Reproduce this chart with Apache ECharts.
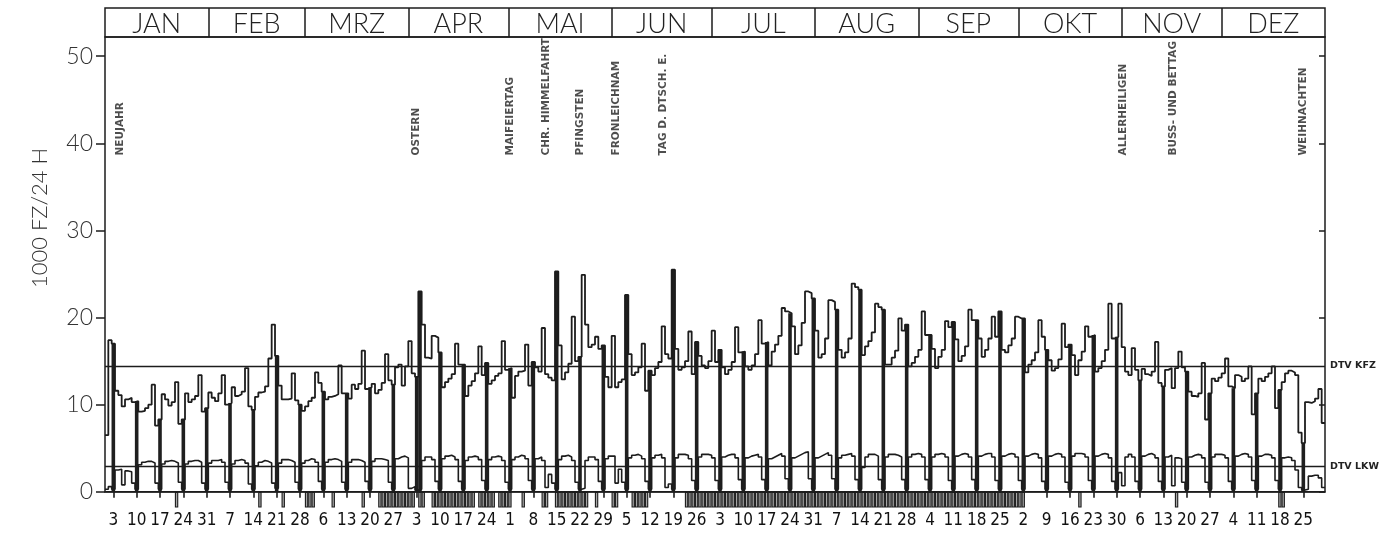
<!DOCTYPE html>
<html><head><meta charset="utf-8">
<script src="https://cdn.jsdelivr.net/npm/echarts@6/dist/echarts.min.js"></script>
<style>html,body{margin:0;padding:0;background:#fff}#c{width:1394px;height:538px}</style>
</head><body><div id="c"></div>
<script>
// ---- data (year 1988, day index 0 = Fri 1 Jan) ----
const monthNames = ['JAN','FEB','MRZ','APR','MAI','JUN','JUL','AUG','SEP','OKT','NOV','DEZ'];
const monthLengths = [31,29,31,30,31,30,31,31,30,31,30,31];
const sundayLabels = ['3','10','17','24','31','7','14','21','28','6','13','20','27','3','10','17','24','1','8','15','22','29','5','12','19','26','3','10','17','24','31','7','14','21','28','4','11','18','25','2','9','16','23','30','6','13','20','27','4','11','18','25'];
const firstSunday = 2;
const yTickValues = [0,10,20,30,40,50];

// KFZ daily totals (1000 vehicles / 24 h)
const kfz = [
 6.5,17.4,17.0,
 11.6,11.1,9.8,10.6,10.8,10.3,10.4,
 9.2,9.3,9.6,10.0,12.3,7.6,8.3,
 11.2,10.6,9.9,10.3,12.6,7.8,8.3,
 11.3,10.3,10.6,11.0,13.4,9.2,9.6,
 11.4,10.8,10.4,11.3,13.4,10.0,10.2,
 12.0,11.0,11.2,11.5,14.2,9.8,9.4,
 10.9,11.4,11.5,12.1,15.3,19.2,15.6,
 12.2,10.6,10.6,10.7,13.6,10.5,10.0,
 9.3,9.8,10.4,10.8,13.7,12.5,11.5,
 10.6,10.9,11.0,11.2,14.5,11.3,11.3,
 10.7,12.3,11.8,12.4,16.2,11.8,12.0,
 12.4,11.3,11.7,12.5,15.8,12.8,12.3,
 14.3,14.6,12.2,14.4,17.3,13.6,13.2,
 23.0,19.2,15.4,15.3,17.9,17.7,16.0,
 12.0,12.6,13.0,13.5,17.0,14.6,14.6,
 11.0,12.2,12.7,13.6,16.7,13.4,14.8,
 12.4,12.8,13.3,13.6,17.3,14.0,14.2,
 10.8,13.3,13.8,13.9,16.9,12.2,14.9,
 14.3,13.8,18.8,13.5,13.1,12.8,25.3,
 16.8,12.9,13.7,14.7,20.1,15.0,15.5,
 24.9,19.2,16.6,16.9,17.8,16.4,16.8,
 13.2,12.0,17.9,12.0,12.6,12.9,22.6,
 15.8,13.4,13.7,14.3,17.0,11.6,13.9,
 13.4,14.2,14.9,19.0,15.8,15.3,25.5,
 16.4,14.0,14.3,15.0,18.4,13.5,17.2,
 15.6,14.5,14.2,15.0,18.5,14.9,16.3,
 14.3,13.5,14.0,14.9,18.9,16.0,16.1,
 14.4,14.0,14.5,15.8,19.7,17.0,17.2,
 14.5,16.1,16.9,17.9,21.1,20.7,20.5,
 19.0,15.8,16.8,19.4,23.0,22.8,22.2,
 18.5,15.4,15.8,17.6,22.0,21.8,20.9,
 16.3,15.4,16.0,17.6,23.9,23.5,23.2,
 15.7,16.7,17.3,18.3,21.6,21.2,20.9,
 14.6,14.6,15.4,16.2,19.9,18.5,19.2,
 14.4,14.8,15.5,16.3,20.7,18.0,18.0,
 16.4,14.2,15.5,16.3,19.6,18.9,19.5,
 17.5,15.0,15.6,16.7,20.9,19.7,19.7,
 17.6,15.5,16.3,17.6,20.1,17.8,20.7,
 16.3,16.0,16.8,17.6,20.1,19.9,19.9,
 13.7,14.6,15.1,16.0,19.7,17.8,16.3,
 15.1,13.9,14.2,15.2,19.3,16.6,16.9,
 15.7,13.4,15.1,16.1,19.0,17.8,18.0,
 13.8,14.2,15.0,16.3,21.6,17.6,17.8,
 21.6,16.6,13.8,13.4,16.5,14.0,12.8,
 14.1,13.5,13.3,13.8,17.2,12.5,12.1,
 14.0,14.2,11.9,14.2,16.1,14.3,13.8,
 11.5,11.0,10.9,11.3,14.8,8.3,11.3,
 13.0,12.7,13.1,13.6,15.3,12.1,11.9,
 13.4,13.2,12.7,13.0,14.4,8.9,11.3,
 13.0,12.7,13.2,13.6,14.4,9.6,11.7,
 12.6,13.6,13.9,13.7,13.4,6.8,5.6,
 10.3,10.2,10.4,10.7,11.8,7.9
];

// LKW daily totals (1000 trucks / 24 h)
const lkw = [
 0.3,0.6,0.3,
 2.5,2.6,0.8,2.4,2.3,1.0,0.3,
 3.1,3.4,3.5,3.5,3.3,1.0,0.3,
 3.2,3.5,3.6,3.5,3.3,1.1,0.3,
 3.2,3.5,3.6,3.6,3.4,1.0,0.3,
 3.3,3.6,3.6,3.7,3.4,1.1,0.3,
 3.2,3.6,3.7,3.6,3.3,0.9,0.3,
 3.0,3.4,3.6,3.5,3.3,1.0,0.4,
 3.3,3.7,3.7,3.6,3.4,1.1,0.3,
 3.3,3.6,3.8,3.7,3.4,1.2,0.3,
 3.4,3.7,3.8,3.7,3.5,1.1,0.3,
 3.4,3.7,3.7,3.6,3.4,1.2,0.3,
 3.5,3.8,3.8,3.7,3.6,1.1,0.3,
 3.8,4.0,4.1,3.9,0.4,0.6,0.2,
 0.3,3.6,4.0,4.0,3.7,1.2,0.3,
 3.8,4.1,4.2,4.0,3.7,1.2,0.3,
 3.6,4.0,4.1,4.0,3.7,1.3,0.3,
 3.7,4.0,4.1,4.0,3.6,1.1,0.3,
 3.7,4.0,4.2,4.1,3.8,1.3,0.3,
 3.8,4.0,3.6,0.5,2.0,1.0,0.3,
 3.7,4.1,4.2,4.0,3.6,1.1,0.3,
 0.4,3.6,4.0,4.0,3.7,1.2,0.3,
 3.8,4.1,4.1,1.0,2.6,1.1,0.3,
 3.9,4.2,4.3,4.1,3.8,1.2,0.3,
 3.9,4.2,4.3,3.9,0.5,0.9,0.3,
 3.9,4.3,4.3,4.2,3.8,1.3,0.3,
 4.0,4.3,4.3,4.2,3.9,1.3,0.3,
 4.0,4.2,4.3,4.3,3.9,1.4,0.3,
 3.9,4.1,4.2,4.3,4.0,1.4,0.3,
 3.8,4.0,4.2,4.4,4.1,1.5,0.3,
 3.9,4.1,4.3,4.5,4.6,1.5,0.3,
 3.9,4.1,4.3,4.5,4.2,1.5,0.3,
 3.9,4.2,4.3,4.4,4.1,1.4,0.3,
 2.8,4.0,4.3,4.3,4.1,1.4,0.3,
 4.0,4.3,4.3,4.2,4.0,1.4,0.3,
 4.0,4.3,4.4,4.3,4.0,1.4,0.3,
 4.0,4.3,4.4,4.3,4.0,1.3,0.3,
 4.1,4.3,4.4,4.3,4.0,1.4,0.3,
 4.1,4.3,4.4,4.4,4.0,1.3,0.3,
 4.1,4.3,4.4,4.3,4.0,1.3,0.3,
 4.1,4.3,4.4,4.3,3.9,1.2,0.3,
 4.1,4.3,4.4,4.3,4.0,1.1,0.3,
 4.1,4.4,4.4,4.3,4.0,1.3,0.3,
 4.1,4.3,4.4,4.3,3.9,1.2,0.3,
 2.2,0.7,4.0,4.3,4.0,1.2,0.3,
 4.1,4.3,4.4,4.2,3.9,1.2,0.3,
 4.0,4.2,0.7,3.9,3.8,1.1,0.3,
 4.0,4.2,4.3,4.2,3.9,1.1,0.3,
 4.0,4.3,4.3,4.2,3.9,1.2,0.3,
 4.1,4.3,4.4,4.3,4.0,1.3,0.3,
 4.1,4.3,4.3,4.2,3.9,1.3,0.3,
 3.9,4.0,3.9,3.6,2.5,0.5,0.2,
 0.3,1.8,1.9,1.9,1.6,0.5
];

const dtvKfz = 14.45;
const dtvLkw = 2.95;

// days marked below the axis (school holidays)
const ferienDays = [21,46,53,60,61,62,68,77,
 82,83,84,85,86,87,88,89,90,91,92,94,95,
 98,99,100,101,102,103,104,105,106,107,108,109,110,112,113,114,115,116,118,119,120,121,
 125,131,132,135,136,137,138,139,140,141,142,143,144,147,152,153,158,159,160,161,162,
 174,175,176,177,178,179,180,181,182,183,184,185,186,187,188,189,190,191,192,193,194,195,196,197,198,199,
 200,201,202,203,204,205,206,207,208,209,210,211,212,213,214,215,216,217,218,219,220,221,222,223,224,225,
 226,227,228,229,230,231,232,233,234,235,236,237,238,239,240,241,242,243,244,245,246,247,248,249,250,
 251,252,253,254,255,256,257,258,259,260,261,262,263,264,265,266,267,268,269,270,271,272,273,274,275,
 292,321,352,353];

// extra filled day bars besides Sundays
const extraDarkDays = [94];

const holidayNames = ['NEUJAHR','OSTERN','MAIFEIERTAG','CHR. HIMMELFAHRT','PFINGSTEN','FRONLEICHNAM','TAG D. DTSCH. E.','ALLERHEILIGEN','BUSS- UND BETTAG','WEIHNACHTEN'];
const holidayDays = [4,93,121,132,142,153,167,305,320,359];
const holidayLabelBase = 38.6;

const yMin = -2.2, yMax = 52.2;
const ferienDepth = -1.8;

// ---- derived ----
const nDays = kfz.length;
const monthStarts = []; const monthCenters = [];
{ let s = 0; monthLengths.forEach(l => { monthStarts.push(s); monthCenters.push(s + l / 2); s += l; }); }
const sundayPos = sundayLabels.map((_, k) => firstSunday + 7 * k + 0.5);

const kfzLine = kfz.map((v, i) => [i, v]).concat([[nDays, kfz[nDays - 1]]]);
const lkwLine = lkw.map((v, i) => [i, v]).concat([[nDays, lkw[nDays - 1]]]);
const darkDays = [];
for (let d = firstSunday; d < nDays; d += 7) darkDays.push(d);
extraDarkDays.forEach(d => darkDays.push(d));
const darkBars = darkDays.map(d => [d + 0.5, kfz[d]]);
const ferienBars = ferienDays.map(d => [d + 0.5, ferienDepth]);
const holidayPts = holidayNames.map((n, i) => [holidayDays[i] + 0.5, holidayLabelBase, n]);

const INK = '#1c1c1c';
const thinFont = 'Lato, Roboto, "DejaVu Sans", sans-serif';
const plotFont = '"Liberation Sans Narrow", "DejaVu Sans Condensed", "Liberation Sans", sans-serif';
const boldSmall = '"DejaVu Sans", sans-serif';

const chart = echarts.init(document.getElementById('c'), null, {renderer: 'canvas'});
chart.setOption({
  animation: false,
  backgroundColor: '#ffffff',
  grid: [
    {left: 105, right: 69, top: 37, bottom: 27, outerBoundsMode: 'none', containLabel: false},
    {left: 105, right: 69, top: 8, height: 29, outerBoundsMode: 'none', containLabel: false,
     show: true, borderColor: INK, borderWidth: 1.5, backgroundColor: 'transparent'}
  ],
  graphic: [{
    type: 'text', x: 40, y: 218, rotation: Math.PI / 2,
    style: {text: '1000 FZ/24 H', font: '300 22px ' + thinFont, fill: '#333', align: 'center', verticalAlign: 'middle'}
  }],
  xAxis: [{
    type: 'value', gridIndex: 0, min: 0, max: nDays,
    axisLine: {show: true, onZero: true, lineStyle: {color: INK, width: 1.5}},
    axisTick: {show: true, customValues: sundayPos, length: 6, lineStyle: {color: INK, width: 1.6}},
    axisLabel: {show: true, customValues: sundayPos, margin: 1, fontFamily: plotFont, fontSize: 17, color: '#111',
      formatter: v => sundayLabels[Math.round((v - firstSunday - 0.5) / 7)] || ''},
    splitLine: {show: false}
  }, {
    type: 'value', gridIndex: 1, min: 0, max: nDays, position: 'bottom',
    axisLine: {show: false},
    axisTick: {show: true, inside: true, customValues: monthStarts.slice(1), length: 29, lineStyle: {color: INK, width: 1.5}},
    axisLabel: {show: true, inside: true, customValues: monthCenters, margin: -1, fontFamily: thinFont, fontWeight: 300, fontSize: 27, color: '#222',
      formatter: v => { const i = monthCenters.findIndex(c => Math.abs(c - v) < 0.01); return i >= 0 ? monthNames[i] : ''; }},
    splitLine: {show: false}
  }],
  yAxis: [{
    type: 'value', gridIndex: 0, min: yMin, max: yMax,
    axisLine: {show: false},
    axisTick: {show: true, customValues: yTickValues, length: 9, lineStyle: {color: INK, width: 1.5}},
    axisLabel: {show: true, customValues: yTickValues, margin: 12, fontFamily: thinFont, fontWeight: 300, fontSize: 23, color: '#333'},
    splitLine: {show: false}
  }, {
    type: 'value', gridIndex: 0, min: yMin, max: yMax,
    axisLine: {show: false},
    axisTick: {show: true, inside: true, customValues: yTickValues, length: 6, lineStyle: {color: INK, width: 1.5}},
    axisLabel: {show: false}, splitLine: {show: false}
  }, {
    type: 'value', gridIndex: 1, min: 0, max: 1, show: false
  }],
  series: [
    {
      type: 'bar', name: 'ferien', xAxisIndex: 0, yAxisIndex: 0, data: ferienBars,
      barWidth: 3.4, barGap: '-100%', z: 2,
      itemStyle: {color: '#a8a8a8', borderColor: INK, borderWidth: 1.1}
    },
    {
      type: 'bar', name: 'sonntag', xAxisIndex: 0, yAxisIndex: 0, data: darkBars,
      barWidth: 3.6, barGap: '-100%', z: 2,
      itemStyle: {color: '#1f1f1f'}
    },
    {
      type: 'line', name: 'LKW', xAxisIndex: 0, yAxisIndex: 0, data: lkwLine, step: 'end',
      symbol: 'none', z: 3, lineStyle: {color: INK, width: 1.6},
      markLine: {silent: true, symbol: 'none', lineStyle: {color: INK, width: 1.4, type: 'solid'},
        label: {show: true, position: 'end', distance: 5, formatter: 'DTV LKW', fontFamily: boldSmall, fontWeight: 'bold', fontSize: 9.5, color: '#222'},
        data: [{yAxis: dtvLkw}]}
    },
    {
      type: 'line', name: 'KFZ', xAxisIndex: 0, yAxisIndex: 0, data: kfzLine, step: 'end',
      symbol: 'none', z: 4, lineStyle: {color: INK, width: 1.8},
      markLine: {silent: true, symbol: 'none', lineStyle: {color: INK, width: 1.4, type: 'solid'},
        label: {show: true, position: 'end', distance: 5, formatter: 'DTV KFZ', fontFamily: boldSmall, fontWeight: 'bold', fontSize: 9.5, color: '#222'},
        data: [{yAxis: dtvKfz}]},
      markArea: {silent: true, itemStyle: {color: 'rgba(0,0,0,0)', borderColor: INK, borderWidth: 1.5},
        data: [[{coord: [0, 0]}, {coord: [nDays, yMax]}]]}
    },
    {
      type: 'scatter', name: 'feiertage', xAxisIndex: 0, yAxisIndex: 0, data: holidayPts,
      symbolSize: 1, itemStyle: {color: 'rgba(0,0,0,0)'}, z: 5,
      label: {show: true, position: 'inside', rotate: 90, align: 'left', verticalAlign: 'middle',
        formatter: p => p.data[2], fontFamily: boldSmall, fontWeight: 'bold', fontSize: 10.5, color: '#222'}
    },
    {type: 'line', xAxisIndex: 1, yAxisIndex: 2, data: [], symbol: 'none'}
  ]
});
</script></body></html>
